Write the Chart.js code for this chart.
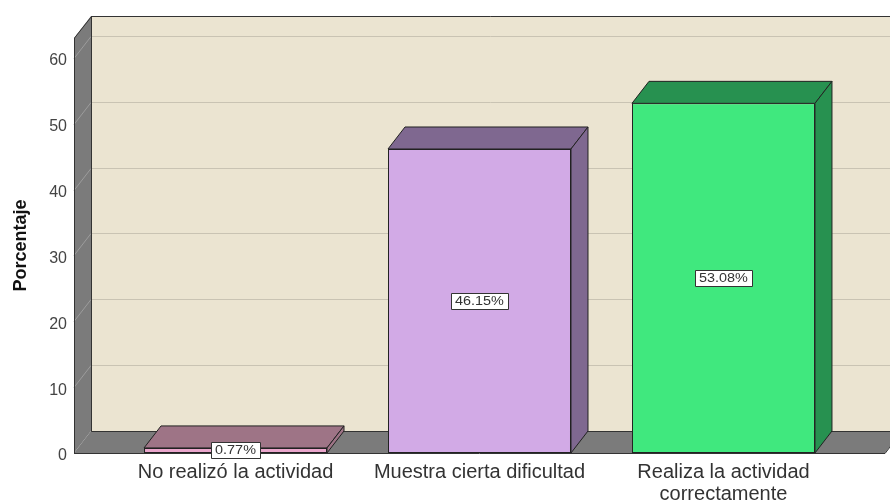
<!DOCTYPE html>
<html>
<head>
<meta charset="utf-8">
<script src="https://cdn.jsdelivr.net/npm/chart.js@4.4.1/dist/chart.umd.min.js"></script>
<style>
  html, body { margin: 0; padding: 0; background: #ffffff; }
  #wrap { width: 890px; height: 504px; }
</style>
</head>
<body>
<div id="wrap"><canvas id="c" width="890" height="504"></canvas></div>
<script>
// ---- data ----
const categories = ['No realizó la actividad', 'Muestra cierta dificultad', ['Realiza la actividad', 'correctamente']];
const percentages = [0.77, 46.15, 53.08];
const valueLabels = ['0.77%', '46.15%', '53.08%'];
const yTicks = [0, 10, 20, 30, 40, 50, 60];
const yTitle = 'Porcentaje';

// ---- styles ----
const frontColors = ['#eaa6cc', '#d2aae6', '#40e87e'];
const sideColors = ['#9e7486', '#7f6890', '#279150'];
const DX = 17, DY = -22;

const wallsPlugin = {
  id: 'walls',
  beforeDraw(chart) {
    const { ctx, chartArea: a, scales } = chart;
    const ys = scales.y;
    ctx.save();
    // back wall
    ctx.fillStyle = '#ebe4d1';
    ctx.fillRect(a.left + DX, a.top + DY, chart.width - (a.left + DX) + 5, a.bottom - a.top);
    // left wall
    ctx.fillStyle = '#7b7b7b';
    ctx.beginPath();
    ctx.moveTo(a.left, a.top);
    ctx.lineTo(a.left + DX, a.top + DY);
    ctx.lineTo(a.left + DX, a.bottom + DY);
    ctx.lineTo(a.left, a.bottom);
    ctx.closePath();
    ctx.fill();
    // floor
    ctx.beginPath();
    ctx.moveTo(a.left, a.bottom);
    ctx.lineTo(a.left + DX, a.bottom + DY);
    ctx.lineTo(a.right + DX, a.bottom + DY);
    ctx.lineTo(a.right, a.bottom);
    ctx.closePath();
    ctx.fill();
    // gridlines
    ctx.lineWidth = 1;
    yTicks.forEach(v => {
      if (v === 0) return;
      const y = Math.round(ys.getPixelForValue(v)) + 0.5;
      ctx.strokeStyle = '#c9c3b3';
      ctx.beginPath();
      ctx.moveTo(a.left + DX, y + DY);
      ctx.lineTo(chart.width, y + DY);
      ctx.stroke();
      ctx.strokeStyle = '#9c9c9c';
      ctx.beginPath();
      ctx.moveTo(a.left, y);
      ctx.lineTo(a.left + DX, y + DY);
      ctx.stroke();
    });
    // outlines
    ctx.strokeStyle = '#333333';
    ctx.beginPath();
    ctx.moveTo(a.left + 0.5, a.bottom + 0.5);
    ctx.lineTo(a.left + 0.5, a.top);
    ctx.lineTo(a.left + DX + 0.5, a.top + DY + 0.5);
    ctx.lineTo(chart.width, a.top + DY + 0.5);
    ctx.moveTo(a.left + DX + 0.5, a.top + DY);
    ctx.lineTo(a.left + DX + 0.5, a.bottom + DY + 0.5);
    ctx.lineTo(chart.width, a.bottom + DY + 0.5);
    ctx.moveTo(a.left, a.bottom + 0.5);
    ctx.lineTo(a.right, a.bottom + 0.5);
    ctx.lineTo(a.right + DX, a.bottom + DY + 0.5);
    ctx.stroke();
    ctx.restore();
  },
  afterDatasetsDraw(chart) {
    const { ctx } = chart;
    const meta = chart.getDatasetMeta(0);
    ctx.save();
    ctx.lineWidth = 1;
    ctx.strokeStyle = '#222222';
    ctx.lineJoin = 'round';
    meta.data.forEach((bar, i) => {
      const p = bar.getProps(['x', 'y', 'base', 'width'], true);
      const l = p.x - p.width / 2, r = p.x + p.width / 2;
      ctx.fillStyle = sideColors[i];
      // top face
      ctx.beginPath();
      ctx.moveTo(l, p.y);
      ctx.lineTo(l + DX, p.y + DY);
      ctx.lineTo(r + DX, p.y + DY);
      ctx.lineTo(r, p.y);
      ctx.closePath();
      ctx.fill();
      ctx.stroke();
      // side face
      ctx.beginPath();
      ctx.moveTo(r, p.y);
      ctx.lineTo(r + DX, p.y + DY);
      ctx.lineTo(r + DX, p.base + DY);
      ctx.lineTo(r, p.base);
      ctx.closePath();
      ctx.fill();
      ctx.stroke();
    });
    // value labels
    ctx.font = '12px "Liberation Sans", Arial, sans-serif';
    ctx.textAlign = 'center';
    ctx.textBaseline = 'middle';
    const hs = 1.2;
    meta.data.forEach((bar, i) => {
      const p = bar.getProps(['x', 'y', 'base'], true);
      const cy = Math.round((p.y + p.base) / 2);
      const tw = ctx.measureText(valueLabels[i]).width * hs;
      const bw = Math.round(tw + 8), bh = 16;
      const bx = Math.round(p.x - bw / 2) + 0.5, by = Math.round(cy - bh / 2) + 0.5;
      ctx.fillStyle = '#ffffff';
      ctx.fillRect(bx, by, bw, bh);
      ctx.strokeStyle = '#333333';
      ctx.strokeRect(bx, by, bw, bh);
      ctx.save();
      ctx.translate(p.x, cy + 1);
      ctx.scale(hs, 1);
      ctx.fillStyle = '#333333';
      ctx.fillText(valueLabels[i], 0, 0);
      ctx.restore();
    });
    ctx.restore();
  }
};

new Chart(document.getElementById('c'), {
  type: 'bar',
  data: {
    datasets: [{
      data: percentages.map((v, i) => ({ x: i, y: v })),
      backgroundColor: frontColors,
      borderColor: '#222222',
      borderWidth: 1,
      borderSkipped: false,
      categoryPercentage: 1,
      barPercentage: 0.75
    }]
  },
  options: {
    responsive: false,
    animation: false,
    events: [],
    layout: { padding: { top: 38, right: 5, left: 0, bottom: 0 } },
    plugins: { legend: { display: false }, tooltip: { enabled: false } },
    scales: {
      x: {
        type: 'linear',
        offset: false,
        min: -0.662,
        max: 2.662,
        grid: { display: false, drawTicks: false, offset: false },
        border: { display: false },
        afterBuildTicks(scale) { scale.ticks = categories.map((c, i) => ({ value: i })); },
        afterFit(scale) { scale.height = 51; },
        ticks: {
          autoSkip: false,
          maxRotation: 0,
          padding: 8,
          color: '#333333',
          font: { family: '"Liberation Sans", Arial, sans-serif', size: 20, lineHeight: 1.1 },
          callback: (v) => categories[v]
        }
      },
      y: {
        min: 0,
        max: 63,
        grid: { display: false, drawTicks: false },
        border: { display: false },
        afterBuildTicks(scale) { scale.ticks = yTicks.map(v => ({ value: v })); },
        afterFit(scale) { scale.width = 74; },
        ticks: {
          padding: 7,
          labelOffset: 3,
          color: '#444444',
          font: { family: '"Liberation Sans", Arial, sans-serif', size: 16 }
        },
        title: {
          display: true,
          text: yTitle,
          color: '#111111',
          padding: { top: 10, bottom: 0 },
          font: { family: '"Liberation Sans", Arial, sans-serif', size: 18, weight: 'bold' }
        }
      }
    }
  },
  plugins: [wallsPlugin]
});
</script>
</body>
</html>
